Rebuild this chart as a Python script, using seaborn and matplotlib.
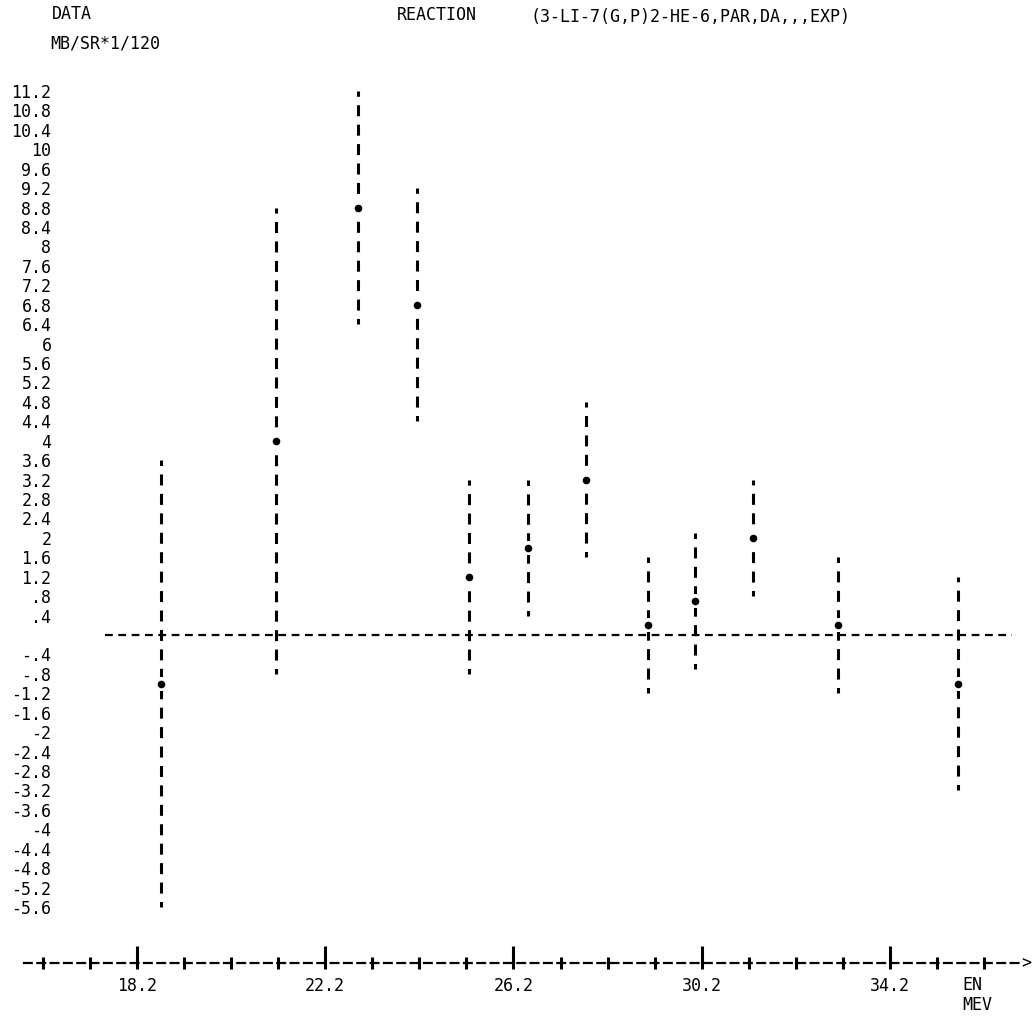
import numpy as np
import pandas as pd
import matplotlib
matplotlib.use("Agg")
import matplotlib.pyplot as plt
import seaborn as sns

# printed points: EN (MEV), DA value (MB/SR*1/120) and its error
energy = [18.7, 21.15, 22.9, 24.15, 25.25, 26.5, 27.75, 29.05, 30.05, 31.3, 33.1, 35.65]
value = [-1.0, 4.0, 8.8, 6.8, 1.2, 1.8, 3.2, 0.2, 0.7, 2.0, 0.2, -1.0]
error = [4.6, 4.8, 2.4, 2.4, 2.0, 1.4, 1.6, 1.4, 1.4, 1.2, 1.4, 2.2]

y_labels = ["11.2", "10.8", "10.4", "10", "9.6", "9.2", "8.8", "8.4", "8", "7.6",
            "7.2", "6.8", "6.4", "6", "5.6", "5.2", "4.8", "4.4", "4", "3.6",
            "3.2", "2.8", "2.4", "2", "1.6", "1.2", ".8", ".4",
            "-.4", "-.8", "-1.2", "-1.6", "-2", "-2.4", "-2.8", "-3.2", "-3.6",
            "-4", "-4.4", "-4.8", "-5.2", "-5.6"]
x_major = [18.2, 22.2, 26.2, 30.2, 34.2]
x_major_labels = ["18.2", "22.2", "26.2", "30.2", "34.2"]
x_minor = [16.2, 17.2, 18.2, 19.2, 20.2, 21.2, 22.2, 23.2, 24.2, 25.2, 26.2,
           27.2, 28.2, 29.2, 30.2, 31.2, 32.2, 33.2, 34.2, 35.2, 36.2]

df = pd.DataFrame({"EN": energy, "DA": value, "ERR": error})

sns.set_style("white")
plt.rcParams["font.family"] = ["DejaVu Sans Mono"]
plt.rcParams["font.size"] = 12
plt.rcParams["text.color"] = "black"
plt.rcParams["xtick.color"] = "black"
plt.rcParams["ytick.color"] = "black"

fig = plt.figure(figsize=(10.35, 10.25), dpi=100)
ax = fig.add_axes([0, 62 / 1025, 1, 963 / 1025])
ax.set_xlim(15.289, 37.282)
ax.set_ylim(-6.753, 13.074)

# error bars drawn as a column of printed "I" characters
eb = ax.errorbar(df["EN"], df["DA"], yerr=df["ERR"], fmt="none",
                 ecolor="black", elinewidth=2.2, capsize=0, zorder=2)
eb[2][0].set_linestyle((1.8, (3.6, 2.76)))

# the centre "*" replaces one character of the column
sns.scatterplot(data=df, x="EN", y="DA", marker="s", s=110, color="white",
                edgecolor="white", linewidth=0, ax=ax, zorder=3)
sns.scatterplot(data=df, x="EN", y="DA", marker="o", s=30, color="black",
                edgecolor="black", linewidth=0, ax=ax, zorder=4)

# zero line
ax.axhline(0, xmin=105 / 1035, xmax=1012 / 1035, color="black", lw=1.6,
           ls=(0, (3.5, 2.5)), zorder=1)

# y labels
ax.set_yticks([float(s) for s in y_labels], y_labels)
ax.tick_params(axis="y", left=True, length=0, pad=-37, labelsize=12)

# x axis as a printed line with I ticks
sns.despine(ax=ax, left=True, top=True, right=True)
x_end = 37.0
ax.spines["bottom"].set_bounds(15.8, x_end)
ax.spines["bottom"].set_linestyle((0, (3.5, 2.5)))
ax.spines["bottom"].set_linewidth(1.6)
ax.spines["bottom"].set_color("black")
ax.xaxis.remove_overlapping_locs = False
ax.set_xticks(x_major, x_major_labels)
ax.set_xticks(x_minor, minor=True)
ax.tick_params(axis="x", which="major", bottom=True, direction="in",
               length=12, width=2.2, pad=10, labelsize=12)
ax.tick_params(axis="x", which="minor", bottom=True, direction="inout",
               length=9, width=2.2)
ax.text(x_end, 0, ">", transform=ax.get_xaxis_transform(), ha="left",
        va="center", fontsize=12)
ax.set_xlabel("")
ax.set_ylabel("")

fig.text(52 / 1035, 1 - 14 / 1025, "DATA", va="center", ha="left")
fig.text(397 / 1035, 1 - 15 / 1025, "REACTION", va="center", ha="left")
fig.text(530 / 1035, 1 - 17 / 1025, "(3-LI-7(G,P)2-HE-6,PAR,DA,,,EXP)",
         va="center", ha="left")
fig.text(50 / 1035, 1 - 43 / 1025, "MB/SR*1/120", va="center", ha="left")
fig.text(962 / 1035, 1 - 976 / 1025, "EN\nMEV", va="top", ha="left",
         linespacing=1.15)

fig.savefig("out.png", dpi=100, facecolor="white")
